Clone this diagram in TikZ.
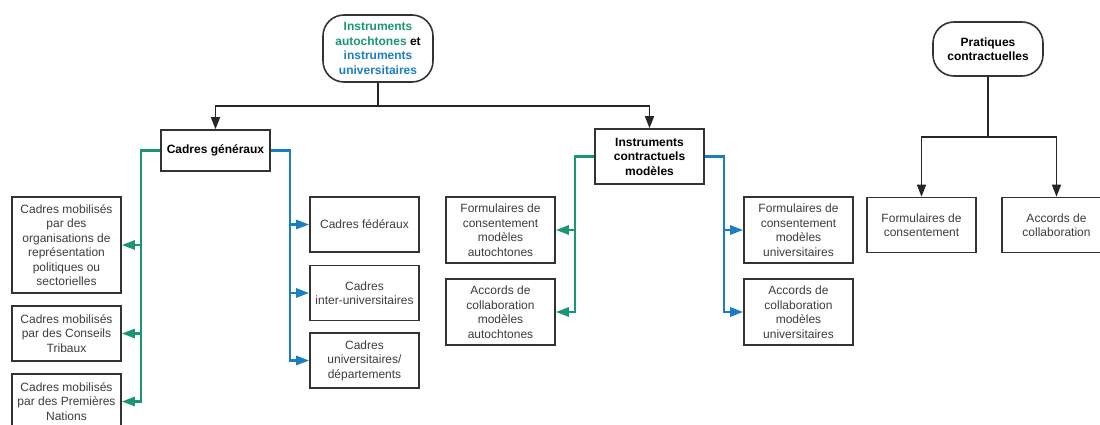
\documentclass[tikz,border=0pt]{standalone}
\usepackage{fontspec}
\setmainfont{Liberation Sans}
\usetikzlibrary{arrows.meta}
\definecolor{autgreen}{RGB}{26,150,118}
\definecolor{univblue}{RGB}{27,126,194}
\definecolor{boxtext}{RGB}{60,60,60}
\begin{document}
\begin{tikzpicture}[x=1pt,y=-1pt,
	box/.style={draw=black!80,line width=1.6pt,minimum width=109pt,minimum height=55pt,inner sep=0pt,align=center,text=boxtext,font=\fontsize{12}{14.5}\selectfont},
	head/.style={box,text=black,font=\bfseries\fontsize{12}{14.5}\selectfont},
	root/.style={head,rounded corners=21pt,minimum width=110pt},
	link/.style={draw=black!85,line width=1.6pt,-{Triangle[length=12pt,width=9pt]}},
	grn/.style={draw=autgreen,line width=2.6pt,-{Triangle[length=13pt,width=9pt]}},
	blu/.style={grn,draw=univblue}]
		\useasboundingbox (0,0) rectangle (1100,425);
		\clip (0,0) rectangle (1100,425);
		\node[root,minimum height=67pt] (autuniv) at (378,48.5) {\textcolor{autgreen}{Instruments}\\\textcolor{autgreen}{autochtones} et\\\textcolor{univblue}{instruments}\\\textcolor{univblue}{universitaires}};
		\node[head,minimum height=41pt] (cadgen) at (215.5,150.5) {Cadres généraux};
		\node[head] (instmod) at (649.5,156.5) {Instruments\\contractuels\\modèles};
		\node[root,minimum height=54pt] (pratiques) at (988,49) {Pratiques\\contractuelles};
		\node[box,minimum height=96pt] (cmorg) at (66.5,245) {Cadres mobilisés\\par des\\organisations de\\représentation\\politiques ou\\sectorielles};
		\node[box] (cmtrib) at (66.5,333.5) {Cadres mobilisés\\par des Conseils\\Tribaux};
		\node[box] (cmnat) at (66.5,401.5) {Cadres mobilisés\\par des Premières\\Nations};
		\node[box] (cfed) at (364.5,224.5) {Cadres fédéraux};
		\node[box] (cinter) at (364.5,293) {Cadres\\inter-universitaires};
		\node[box] (cdep) at (364.5,360.5) {Cadres\\universitaires/\\départements};
		\node[box,minimum height=66pt] (fcaut) at (500.5,230) {Formulaires de\\consentement\\modèles\\autochtones};
		\node[box,minimum height=66pt] (acaut) at (500.5,312) {Accords de\\collaboration\\modèles\\autochtones};
		\node[box,minimum height=66pt] (fcuni) at (798.5,230) {Formulaires de\\consentement\\modèles\\universitaires};
		\node[box,minimum height=66pt] (acuni) at (798.5,312) {Accords de\\collaboration\\modèles\\universitaires};
		\node[box] (formcons) at (921.5,225) {Formulaires de\\consentement};
		\node[box] (acccoll) at (1056.5,225) {Accords de\\collaboration};
		\coordinate (topfork) at (378,106);
		\coordinate (pratfork) at (988,137);
		\coordinate (genleft) at (141,150.5);
		\coordinate (genright) at (290,150.5);
		\coordinate (instleft) at (575,156.5);
		\coordinate (instright) at (724,156.5);
		\draw[link,-] (autuniv) -- (topfork);
		\draw[link] (topfork) -| (cadgen);
		\draw[link] (topfork) -| (instmod);
		\draw[link,-] (pratiques) -- (pratfork);
		\draw[link] (pratfork) -| (formcons);
		\draw[link] (pratfork) -| (acccoll);
		\draw[grn] (cadgen.west) -- (genleft) |- (cmnat.east);
		\draw[grn] (genleft |- cmorg) -- (cmorg.east);
		\draw[grn] (genleft |- cmtrib) -- (cmtrib.east);
		\draw[blu] (cadgen.east) -- (genright) |- (cdep.west);
		\draw[blu] (genright |- cfed) -- (cfed.west);
		\draw[blu] (genright |- cinter) -- (cinter.west);
		\draw[grn] (instmod.west) -- (instleft) |- (acaut.east);
		\draw[grn] (instleft |- fcaut) -- (fcaut.east);
		\draw[blu] (instmod.east) -- (instright) |- (acuni.west);
		\draw[blu] (instright |- fcuni) -- (fcuni.west);
	\end{tikzpicture}
\end{document}
